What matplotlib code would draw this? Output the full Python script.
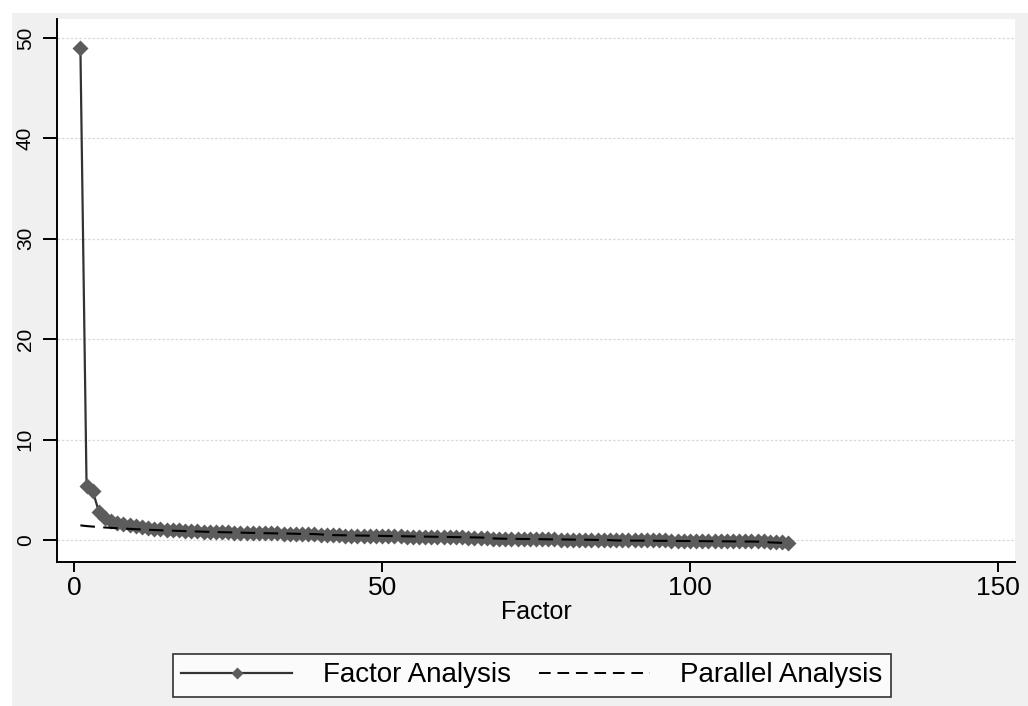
import matplotlib
matplotlib.use("Agg")
import matplotlib.pyplot as plt
from matplotlib.patches import Rectangle

plt.rcParams['font.family'] = ['Liberation Sans', 'DejaVu Sans']

# eigenvalues
factor_vals = [
    49.0, 5.4, 4.9, 2.8, 2.2, 1.9, 1.7, 1.55, 1.45, 1.35,
    1.25, 1.18, 1.12, 1.07, 1.02, 0.98, 0.94, 0.9, 0.87, 0.84,
    0.82, 0.8, 0.78, 0.76, 0.74, 0.72, 0.7, 0.69, 0.68, 0.67,
    0.66, 0.65, 0.64, 0.63, 0.62, 0.61, 0.6, 0.58, 0.56, 0.52,
    0.48, 0.46, 0.45, 0.44, 0.43, 0.42, 0.41, 0.4, 0.39, 0.38,
    0.37, 0.36, 0.35, 0.34, 0.33, 0.32, 0.31, 0.3, 0.29, 0.28,
    0.27, 0.26, 0.25, 0.24, 0.23, 0.22, 0.2, 0.12, 0.1, 0.09,
    0.08, 0.08, 0.07, 0.07, 0.06, 0.06, 0.05, 0.05, 0.04, 0.04,
    0.03, 0.03, 0.02, 0.02, 0.01, 0.01, 0.0, -0.02, -0.03, -0.03,
    -0.04, -0.04, -0.04, -0.05, -0.05, -0.05, -0.06, -0.06, -0.06, -0.07,
    -0.07, -0.07, -0.08, -0.08, -0.08, -0.09, -0.09, -0.09, -0.1, -0.1,
    -0.11, -0.12, -0.2, -0.22, -0.24, -0.26,
]
parallel_vals = [
    1.45, 1.38, 1.33, 1.28, 1.24, 1.2, 1.16, 1.13, 1.1, 1.07,
    1.04, 1.01, 0.99, 0.96, 0.94, 0.92, 0.9, 0.88, 0.86, 0.84,
    0.82, 0.8, 0.79, 0.77, 0.76, 0.74, 0.73, 0.71, 0.7, 0.69,
    0.67, 0.66, 0.65, 0.64, 0.63, 0.61, 0.6, 0.59, 0.58, 0.55,
    0.5, 0.48, 0.47, 0.46, 0.45, 0.44, 0.43, 0.42, 0.41, 0.4,
    0.39, 0.38, 0.37, 0.36, 0.35, 0.34, 0.33, 0.32, 0.31, 0.3,
    0.29, 0.28, 0.27, 0.26, 0.25, 0.24, 0.22, 0.15, 0.13, 0.12,
    0.11, 0.1, 0.09, 0.09, 0.08, 0.07, 0.06, 0.05, 0.05, 0.04,
    0.03, 0.02, 0.02, 0.01, 0.0, -0.01, -0.02, -0.05, -0.06, -0.06,
    -0.07, -0.07, -0.08, -0.08, -0.09, -0.09, -0.1, -0.1, -0.11, -0.11,
    -0.12, -0.12, -0.13, -0.13, -0.14, -0.14, -0.15, -0.15, -0.16, -0.16,
    -0.17, -0.18, -0.25, -0.27, -0.29, -0.3,
]
factors = list(range(1, len(factor_vals) + 1))

x_ticks = [0, 50, 100, 150]
y_ticks = [0, 10, 20, 30, 40, 50]

fig = plt.figure(figsize=(10.28, 7.06), dpi=100, facecolor="#f0f0f0")
# white margin strips at top and left of the screenshot
fig.patches.append(Rectangle((0, 1 - 13 / 706), 1, 13 / 706, transform=fig.transFigure,
                             facecolor="white", edgecolor="none", zorder=0))
fig.patches.append(Rectangle((0, 0), 12 / 1028, 1, transform=fig.transFigure,
                             facecolor="white", edgecolor="none", zorder=0))

ax = fig.add_axes([57 / 1028, 144 / 706, 958 / 1028, 543 / 706])
ax.set_facecolor("white")

ax.plot(factors, factor_vals, color="#333333", lw=1.6, zorder=2)
ax.plot(factors, factor_vals, ls="none", marker="D", ms=7.8, color="#5c5c5c",
        mec="none", zorder=3)
ax.plot(factors, parallel_vals, color="black", lw=1.5, ls=(0, (7, 4)), zorder=4)

ax.set_xlim(-2.8, 152.8)
ax.set_ylim(-2.2, 51.9)
ax.set_xticks(x_ticks)
ax.set_yticks(y_ticks)
ax.set_yticklabels([str(v) for v in y_ticks], rotation=90, va="center", fontsize=15)
ax.tick_params(axis="x", labelsize=19, length=7, width=1.4, pad=3)
ax.tick_params(axis="y", length=10, width=1.4, pad=6)
ax.grid(axis="y", color="#d8d8d8", lw=0.9, ls=(0, (2, 1.5)))
ax.set_axisbelow(True)
for s in ["top", "right"]:
    ax.spines[s].set_visible(False)
for s in ["left", "bottom"]:
    ax.spines[s].set_linewidth(1.4)
ax.set_xlabel("Factor", fontsize=18, labelpad=0)

fa_handle = plt.Line2D([], [], color="#333333", lw=1.6, marker="D", ms=6,
                       mfc="#5c5c5c", mec="none")
pa_handle = plt.Line2D([], [], color="black", lw=1.4, ls=(0, (6, 3.5)))
leg = fig.legend([fa_handle, pa_handle], ["Factor Analysis", "Parallel Analysis"],
                 loc="center", bbox_to_anchor=(532 / 1028, 30.5 / 706), ncol=2,
                 fontsize=20, frameon=True, fancybox=False, numpoints=1,
                 handlelength=4.0, columnspacing=1.0, handletextpad=1.1,
                 borderpad=0.3)
leg.get_frame().set_edgecolor("black")
leg.get_frame().set_linewidth(1.2)

fig.savefig("out.png", dpi=100, facecolor=fig.get_facecolor())
